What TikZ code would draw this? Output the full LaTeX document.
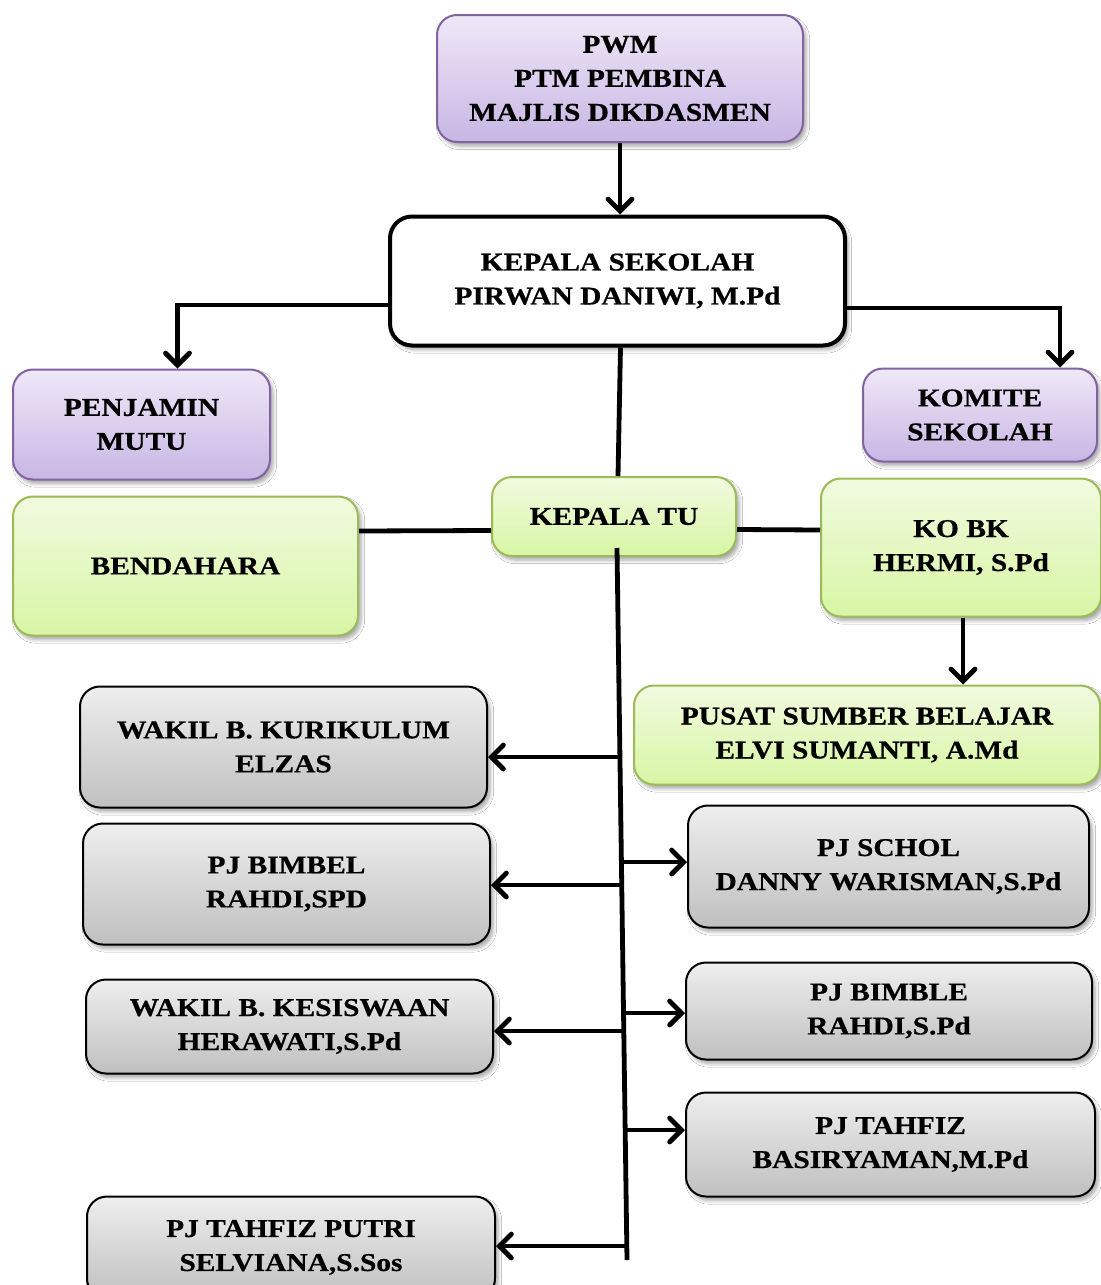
\documentclass[tikz,border=0pt]{standalone}
\usepackage{fontspec}
\setmainfont{Liberation Serif}[FakeStretch=1.15, BoldFeatures={FakeBold=0.6}]
\usetikzlibrary{arrows.meta,shadows.blur}
\definecolor{purTop}{RGB}{239,232,247}
\definecolor{purBot}{RGB}{200,182,228}
\definecolor{purLine}{RGB}{128,100,162}
\definecolor{grnTop}{RGB}{241,250,224}
\definecolor{grnBot}{RGB}{216,246,164}
\definecolor{grnLine}{RGB}{155,187,89}
\definecolor{gryTop}{RGB}{238,238,238}
\definecolor{gryBot}{RGB}{192,192,192}
\tikzset{
  box/.style={rectangle, rounded corners=10pt, align=center, inner sep=2pt,
    font=\bfseries\fontsize{12.8}{17}\selectfont,
    blur shadow={shadow xshift=1.5pt, shadow yshift=-2pt, shadow opacity=35, shadow blur steps=6}},
  purbox/.style={box, draw=purLine, line width=1pt, top color=purTop, bottom color=purBot},
  grnbox/.style={box, draw=grnLine, line width=1pt, top color=grnTop, bottom color=grnBot},
  grybox/.style={box, draw=black, line width=1pt, top color=gryTop, bottom color=gryBot},
  headbox/.style={box, draw=black, line width=2pt, fill=white, rounded corners=11pt},
  conn/.style={line width=2.4pt, black},
  arr/.style={conn, -{Straight Barb[length=6pt,width=12pt,line cap=round]}},
}
\begin{document}
\begin{tikzpicture}[x=0.5pt,y=-0.5pt]
\useasboundingbox (0,0) rectangle (1101,1285);
\fill[white] (0,0) rectangle (1101,1285);
\clip (0,0) rectangle (1101,1285);

% nodes
\node[purbox, minimum width=183pt, minimum height=63.5pt] (pwm) at (620,78.5) {PWM\\PTM PEMBINA\\MAJLIS DIKDASMEN};
\node[headbox, minimum width=227.5pt, minimum height=64.5pt] (ks) at (617.5,281) {KEPALA SEKOLAH\\PIRWAN DANIWI, M.Pd};
\node[purbox, minimum width=128.5pt, minimum height=55pt] (pm) at (141.5,424.5) {PENJAMIN\\MUTU};
\node[purbox, minimum width=117pt, minimum height=46.5pt] (kom) at (980,415) {KOMITE\\SEKOLAH};
\node[grnbox, minimum width=122pt, minimum height=39.5pt] (ktu) at (614,516.5) {KEPALA TU};
\node[grnbox, minimum width=172.5pt, minimum height=69.5pt] (bend) at (185.5,566) {BENDAHARA};
\node[grnbox, minimum width=140pt, minimum height=69pt] (kobk) at (961,547.5) {KO BK\\HERMI, S.Pd};
\node[grnbox, minimum width=233pt, minimum height=49.5pt] (psb) at (867,735) {PUSAT SUMBER BELAJAR\\ELVI SUMANTI, A.Md};
\node[grybox, minimum width=203.5pt, minimum height=60.5pt] (wkur) at (283.5,747) {WAKIL B. KURIKULUM\\ELZAS};
\node[grybox, minimum width=203.5pt, minimum height=60.5pt] (bimbel) at (286.5,884) {PJ BIMBEL\\RAHDI,SPD};
\node[grybox, minimum width=203.5pt, minimum height=47pt] (wkes) at (289.5,1026.5) {WAKIL B. KESISWAAN\\HERAWATI,S.Pd};
\node[grybox, minimum width=204pt, minimum height=51pt] (tputri) at (291,1247.5) {PJ TAHFIZ PUTRI\\SELVIANA,S.Sos};
\node[grybox, minimum width=200.5pt, minimum height=61pt] (schol) at (888.5,866.5) {PJ SCHOL\\DANNY WARISMAN,S.Pd};
\node[grybox, minimum width=203pt, minimum height=48.5pt] (bimble) at (889,1011) {PJ BIMBLE\\RAHDI,S.Pd};
\node[grybox, minimum width=204.5pt, minimum height=52pt] (tahfiz) at (890.5,1144.5) {PJ TAHFIZ\\BASIRYAMAN,M.Pd};

% connectors
\draw[arr] (pwm.south) -- (pwm.south |- ks.north);
\draw[arr] ([yshift=-12pt]ks.west) -| ([xshift=18pt]pm.north);
\draw[arr] ([yshift=-13.5pt]ks.east) -| ([xshift=40pt]kom.north);
\draw[conn] ([xshift=1.5pt]ks.south) -- ([xshift=2pt]ktu.north);
\draw[conn] ([yshift=-7pt]ktu.west) -- (bend.east |- {0,531});
\draw[conn] ([yshift=-6.5pt]ktu.east) -- (kobk.west |- {0,530});
\draw[arr] ([xshift=1pt]kobk.south) -- ([xshift=1pt]kobk.south |- psb.north);

% trunk
\coordinate (t1) at (617,548);
\coordinate (t2) at (627,1260);
\draw[conn] (t1) -- (t2);
\coordinate (jl1) at (620,757);
\coordinate (jl2) at (621.7,885);
\coordinate (jl3) at (623.8,1031);
\coordinate (jl4) at (626.8,1246);
\coordinate (jr1) at (621.5,862);
\coordinate (jr2) at (623.5,1013);
\coordinate (jr3) at (625,1130);
\draw[arr] (jl1) -- (wkur.east |- jl1);
\draw[arr] (jl2) -- (bimbel.east |- jl2);
\draw[arr] (jl3) -- (wkes.east |- jl3);
\draw[arr] (jl4) -- (tputri.east |- jl4);
\draw[arr] (jr1) -- (schol.west |- jr1);
\draw[arr] (jr2) -- (bimble.west |- jr2);
\draw[arr] (jr3) -- (tahfiz.west |- jr3);
\end{tikzpicture}
\end{document}
